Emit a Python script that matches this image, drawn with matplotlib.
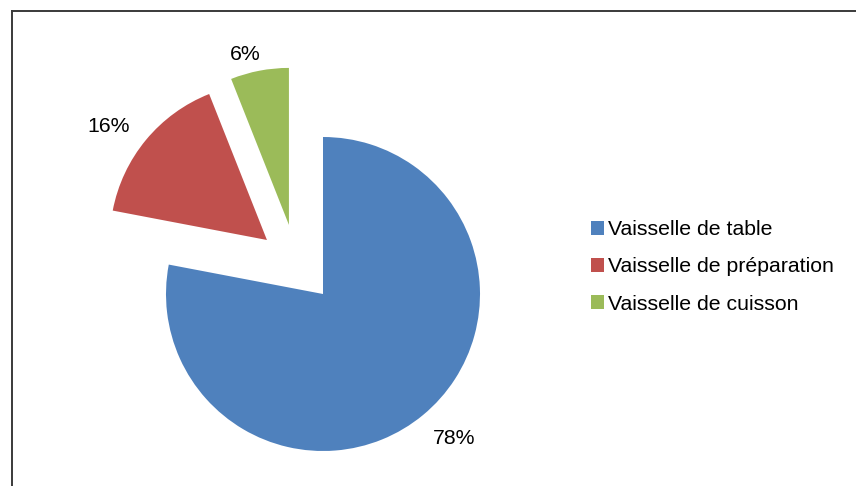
import matplotlib
matplotlib.use("Agg")
from matplotlib import pyplot as plt
from matplotlib.lines import Line2D
import numpy as np

plt.rcParams["font.family"] = ["Liberation Sans", "DejaVu Sans"]

# ------------------------------------------------------------------------ DATA
categories = ["Vaisselle de table", "Vaisselle de préparation", "Vaisselle de cuisson"]
shares = [78, 16, 6]
colors = ["#4F81BD", "#C0504D", "#9BBB59"]

# ---------------------------------------------------------------------- Figure
W, H = 856, 486
R = 157  # pie radius in pixels
cx, cy = 323, 294  # pie centre in pixels (from top left)

fig = plt.figure(figsize=(W / 100, H / 100), dpi=100)
ax = fig.add_axes([0, 0, 1, 1])

wedges, texts, autotexts = ax.pie(
    shares,
    colors=colors,
    startangle=90,
    counterclock=False,
    radius=1,
    autopct="%1.0f%%",
    pctdistance=1.22,
    wedgeprops=dict(linewidth=0),
    textprops=dict(fontsize=15.3, color="black"),
)

# pulled-out slices (offset of each slice apex, in radius units)
offsets = [(0, 0), (-0.357, 0.344), (-0.217, 0.44)]
# small label nudges (pixels) to mimic the outside-end placement
nudges = [(9, 3), (-11, -9), (-8, -18)]
for w, t, (dx, dy), (nx, ny) in zip(wedges, autotexts, offsets, nudges):
    w.set_center((dx, dy))
    x, y = t.get_position()
    t.set_position((x + dx + nx / R, y + dy + ny / R))

ax.set_xlim(-cx / R, (W - cx) / R)
ax.set_ylim(-(H - cy) / R, cy / R)
ax.axis("off")

# ------------------------------------------------------------------- Legend
fig.legend(
    wedges,
    categories,
    loc="center left",
    bbox_to_anchor=(591 / W, 1 - 267 / H),
    frameon=False,
    fontsize=15.3,
    handlelength=0.6,
    handleheight=0.6,
    handletextpad=0.2,
    labelspacing=0.85,
    borderpad=0,
    borderaxespad=0,
)

# ------------------------------------------------------------------- Border
fig.add_artist(Line2D([11.5 / W, 11.5 / W], [0, 1 - 11.5 / H], color="#3a3a3a", lw=1.4))
fig.add_artist(Line2D([11.5 / W, 1], [1 - 11.5 / H, 1 - 11.5 / H], color="#3a3a3a", lw=1.4))

fig.savefig("out.png", dpi=100)
